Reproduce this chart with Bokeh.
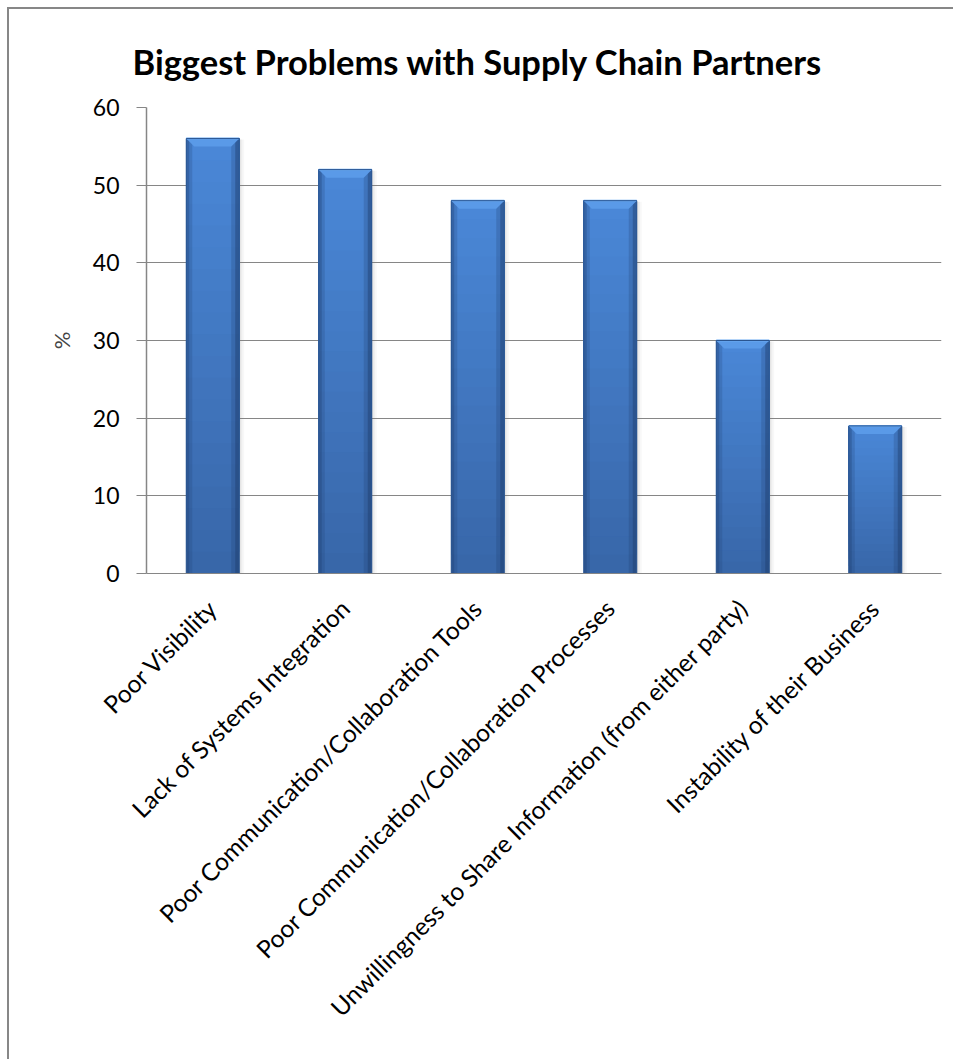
import math
from bokeh.plotting import figure
from bokeh.models import Range1d, FixedTicker
from bokeh.embed import file_html
from bokeh.resources import INLINE

# ---- data ----
categories = [
    "Poor Visibility",
    "Lack of Systems Integration",
    "Poor Communication/Collaboration Tools",
    "Poor Communication/Collaboration Processes",
    "Unwillingness to Share Information (from either party)",
    "Instability of their Business",
]
values = [56, 52, 48, 48, 30, 19]
y_ticks = [0, 10, 20, 30, 40, 50, 60]
title_text = "Biggest Problems with Supply Chain Partners"
y_label = "%"

FONT = "Lato"
GREY = "#868686"

W, H = 946, 1052
p = figure(width=W, height=H, output_backend="svg", toolbar_location=None,
           x_range=Range1d(0, len(categories)), y_range=Range1d(y_ticks[0], y_ticks[-1]),
           min_border_left=137, min_border_right=14, min_border_top=98, min_border_bottom=488)
p.styles = {"margin-left": "7px", "margin-top": "7px",
            "border-left": "2px solid #878787", "border-top": "2px solid #878787"}
p.outline_line_color = None
p.background_fill_color = "white"
p.border_fill_color = "white"

# title
p.title.text = title_text
p.title.text_font = FONT
p.title.text_font_style = "bold"
p.title.text_font_size = "34.5px"
p.title.text_color = "black"
p.title.align = "left"
p.title.offset = -14
p.title.standoff = 52

# axes
xs = [i + 0.5 for i in range(len(categories))]
p.xaxis.ticker = FixedTicker(ticks=xs)
p.xaxis.major_label_overrides = {x: c for x, c in zip(xs, categories)}
p.xaxis.major_label_orientation = math.pi / 4
p.xaxis.major_tick_line_color = None
p.xaxis.minor_tick_line_color = None
p.xaxis.axis_line_color = GREY
p.xaxis.major_label_text_font = FONT
p.xaxis.major_label_text_font_size = "24.5px"
p.xaxis.major_label_text_color = "black"
p.xaxis.major_label_standoff = 24

p.yaxis.ticker = FixedTicker(ticks=y_ticks)
p.yaxis.axis_line_color = GREY
p.yaxis.axis_line_width = 1.5
p.yaxis.major_tick_line_color = GREY
p.yaxis.major_tick_out = 10
p.yaxis.major_tick_in = 0
p.yaxis.minor_tick_line_color = None
p.yaxis.major_label_text_font = FONT
p.yaxis.major_label_text_font_size = "23px"
p.yaxis.major_label_text_color = "black"
p.yaxis.major_label_standoff = 17
p.yaxis.axis_label = y_label
p.yaxis.axis_label_text_font = FONT
p.yaxis.axis_label_text_font_style = "normal"
p.yaxis.axis_label_text_font_size = "22px"
p.yaxis.axis_label_standoff = 15

p.xgrid.grid_line_color = None
p.ygrid.grid_line_color = GREY
p.ygrid.grid_line_width = 1

# ---- bars ----
bw = 0.4
px_x = len(categories) / 795.0
px_y = (y_ticks[-1] - y_ticks[0]) / 466.0

# shadow
for dx, a in [(5, 0.06), (3, 0.08), (1.5, 0.10)]:
    p.quad(left=[x - bw / 2 + dx * px_x for x in xs],
           right=[x + bw / 2 + dx * px_x for x in xs],
           top=[v - 1 * px_y for v in values], bottom=[0] * len(values),
           fill_color="#808080", fill_alpha=a, line_color=None)

def mix(c1, c2, t):
    a = [int(c1[i:i + 2], 16) for i in (1, 3, 5)]
    b = [int(c2[i:i + 2], 16) for i in (1, 3, 5)]
    return "#%02x%02x%02x" % tuple(round(a[j] + (b[j] - a[j]) * t) for j in range(3))

# gradient body (overlapping layers, no seams)
N = 20
bot_c, top_c = "#3866a8", "#4a88d8"
for k in range(N):
    p.quad(left=[x - bw / 2 for x in xs], right=[x + bw / 2 for x in xs],
           bottom=[v * k / N for v in values], top=values,
           fill_color=mix(bot_c, top_c, (k + 0.5) / N), line_color=None)

# side shading
for wpx, a in [(6, 0.22), (3, 0.32)]:
    p.quad(left=[x - bw / 2 for x in xs], right=[x - bw / 2 + wpx * px_x for x in xs],
           bottom=[0] * len(values), top=values, fill_color="#1f3f70", fill_alpha=a, line_color=None)
for wpx, a in [(8, 0.22), (4, 0.38)]:
    p.quad(left=[x + bw / 2 - wpx * px_x for x in xs], right=[x + bw / 2 for x in xs],
           bottom=[0] * len(values), top=values, fill_color="#1a3764", fill_alpha=a, line_color=None)

# top bevel
bev_x = 8 * px_x
bev_y = 8 * px_y
p.patches(xs=[[x - bw / 2, x + bw / 2, x + bw / 2 - bev_x, x - bw / 2 + bev_x] for x in xs],
          ys=[[v, v, v - bev_y, v - bev_y] for v in values],
          fill_color="#5a9ae8", line_color=None)
p.segment(x0=[x - bw / 2 for x in xs], x1=[x + bw / 2 for x in xs], y0=values, y1=values,
          line_color="#6aaaf2", line_width=2)

# outline
p.quad(left=[x - bw / 2 for x in xs], right=[x + bw / 2 for x in xs],
       bottom=[0] * len(values), top=values, fill_color=None, line_color="#2a5590", line_width=1)

open("out.html", "w").write(file_html(p, INLINE))
